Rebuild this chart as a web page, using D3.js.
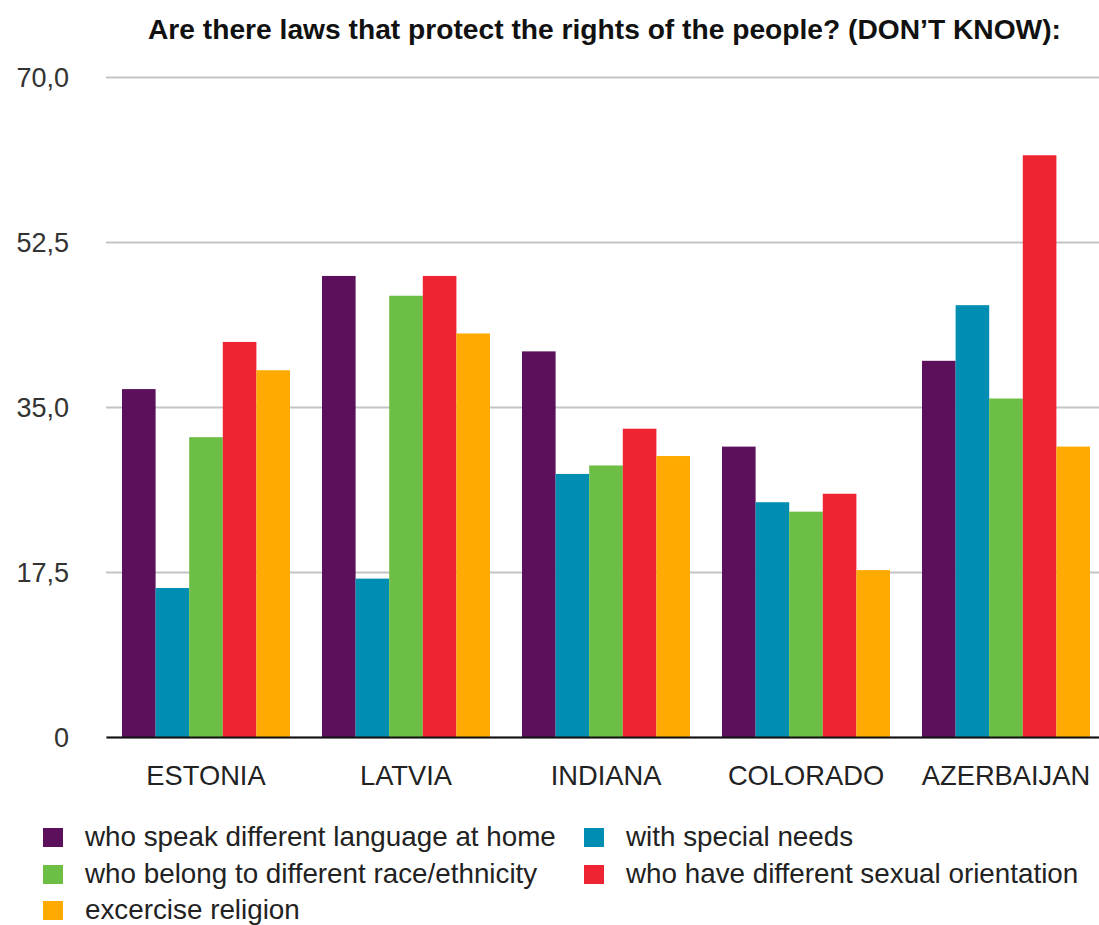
<!DOCTYPE html>
<html>
<head>
<meta charset="utf-8">
<script src="https://cdn.jsdelivr.net/npm/d3@7/dist/d3.min.js"></script>
<style>
  html, body { margin: 0; padding: 0; background: #fff; }
  svg { display: block; font-family: "Liberation Sans", Arial, Helvetica, sans-serif; }
</style>
</head>
<body>
<svg id="chart" width="1099" height="925"></svg>
<script>
const title = "Are there laws that protect the rights of the people? (DON\u2019T KNOW):";
const categories = ["ESTONIA", "LATVIA", "INDIANA", "COLORADO", "AZERBAIJAN"];
const seriesNames = [
  "who speak different language at home",
  "with special needs",
  "who belong to different race/ethnicity",
  "who have different sexual orientation",
  "excercise religion"
];
const seriesColors = ["#5c105c", "#008db2", "#6dbe45", "#ee2433", "#ffaa00"];
const languageValues = [36.9, 48.9, 40.9, 30.8, 39.9];
const specialNeedsValues = [15.8, 16.8, 27.9, 24.9, 45.8];
const raceValues = [31.8, 46.8, 28.8, 23.9, 35.9];
const sexualValues = [41.9, 48.9, 32.7, 25.8, 61.7];
const religionValues = [38.9, 42.8, 29.8, 17.7, 30.8];
const tickValues = [0, 17.5, 35, 52.5, 70];
const tickLabels = ["0", "17,5", "35,0", "52,5", "70,0"];

const seriesValues = [languageValues, specialNeedsValues, raceValues, sexualValues, religionValues];

const svg = d3.select("#chart");
const plotLeft = 106, plotRight = 1106, plotTop = 77, plotBottom = 737;

const x0 = d3.scaleBand().domain(categories).range([plotLeft, plotRight]).padding(0);
const x1 = d3.scaleBand().domain(d3.range(seriesNames.length)).range([16, 184]).padding(0);
const y = d3.scaleLinear().domain([0, 70]).range([plotBottom, plotTop]);

// title
svg.append("text")
  .attr("x", 604.5).attr("y", 39)
  .attr("text-anchor", "middle")
  .attr("font-size", 28.2).attr("font-weight", "bold")
  .attr("fill", "#111")
  .text(title);

// gridlines + y labels
const yAxis = d3.axisLeft(y).tickValues(tickValues)
  .tickSize(-(plotRight - plotLeft))
  .tickPadding(37)
  .tickFormat((d, i) => tickLabels[i]);
const gy = svg.append("g").attr("transform", `translate(${plotLeft},0)`).call(yAxis);
gy.select(".domain").remove();
gy.selectAll(".tick line").attr("stroke", "#c4c4c4").attr("stroke-width", 2);
gy.selectAll(".tick text").attr("font-size", 27).attr("fill", "#333").attr("dy", "0.36em");

// bars
const groups = svg.append("g").selectAll("g")
  .data(categories)
  .join("g")
  .attr("transform", d => `translate(${x0(d)},0)`);
groups.selectAll("rect")
  .data((d, ci) => seriesValues.map((vals, si) => ({ si, v: vals[ci] })))
  .join("rect")
  .attr("x", d => x1(d.si))
  .attr("width", x1.bandwidth())
  .attr("y", d => y(d.v))
  .attr("height", d => y(0) - y(d.v))
  .attr("fill", d => seriesColors[d.si]);

// x axis baseline and labels
const xAxis = d3.axisBottom(x0).tickSize(0).tickPadding(29);
const gx = svg.append("g").attr("transform", `translate(0,${plotBottom})`).call(xAxis);
gx.select(".domain").attr("stroke", "#111").attr("stroke-width", 2.2);
gx.selectAll(".tick text").attr("font-size", 27.3).attr("fill", "#222");

// legend
const legendPos = [
  { x: 43, y: 828 }, { x: 584, y: 828 },
  { x: 43, y: 865 }, { x: 584, y: 865 },
  { x: 43, y: 901 }
];
const legendOrder = [0, 1, 2, 3, 4];
const lg = svg.append("g").selectAll("g")
  .data(legendOrder)
  .join("g")
  .attr("transform", (d, i) => `translate(${legendPos[i].x},${legendPos[i].y})`);
lg.append("rect").attr("width", 20).attr("height", 19).attr("fill", d => seriesColors[d]);
lg.append("text").attr("x", 42).attr("y", 18)
  .attr("font-size", 27.8).attr("fill", "#222")
  .text(d => seriesNames[d]);
</script>
</body>
</html>
